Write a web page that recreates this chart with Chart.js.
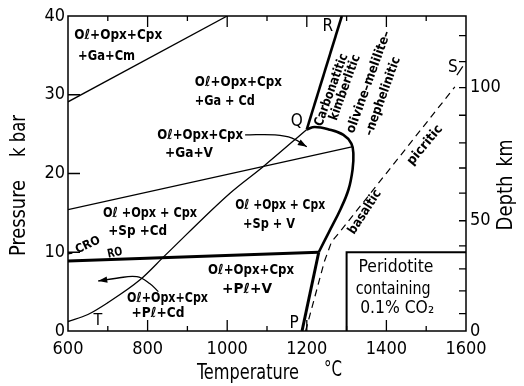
<!DOCTYPE html>
<html>
<head>
<meta charset="utf-8">
<script src="https://cdn.jsdelivr.net/npm/chart.js@4.4.1/dist/chart.umd.min.js"></script>
<style>
  html, body { margin: 0; padding: 0; background: #fff; }
</style>
</head>
<body>
<canvas id="chart" width="524" height="386"></canvas>
<script>
// phase boundaries as [temperature (C), pressure (kbar)]
var cmBoundary = [[600, 29.1], [1000, 40]];
var gaSpBoundary = [[600, 15.4], [1316, 23.4]];
var curveT = [[600, 1.2], [650, 2.1], [700, 3.6], [781, 6.5], [844, 9.6], [1007, 17.5], [1091, 20.9], [1200, 25.6]];
var roBoundary = [[600, 8.9], [1230, 10.0]];
var solidusLow = [[1188, 0], [1230, 10.0]];
var solidusHigh = [[1230, 10.0], [1255, 12.5], [1285, 15.5], [1305, 18.0], [1315, 20.5], [1317, 22.5], [1312, 23.8], [1292, 24.9], [1255, 25.6], [1220, 25.9], [1200, 25.6]];
var lineQR = [[1200, 25.6], [1288, 40]];
var lineCRO = [[600, 9.8], [611, 9.9]];
var dashedPS = [[1197, 0], [1244, 8.8], [1262, 11.3], [1288, 12.9], [1572, 31]];
var markS = [[1577, 32.5], [1592, 33.6]];
var arrowGaV = [[1045, 24.9], [1120, 24.9], [1163, 24.5], [1200, 23.4]];
var arrowPlCd = [[827, 5.0], [806, 6.0], [773, 6.9], [722, 6.7], [676, 6.35]];
var boxCO2 = [[1300, 0], [1300, 10.0], [1600, 10.0]];

// depth scale on the right: km and the pressure where each tick sits
var depthKm = [0, 10, 20, 30, 40, 50, 60, 70, 80, 90, 100, 110, 120];
var depthAtKbar = [0, 2.2, 5.1, 7.9, 10.8, 14.0, 17.5, 20.7, 23.9, 27.4, 30.9, 34.2, 37.5];
var depthLabels = ['0', '50', '100'];

var tempTicks = [600, 800, 1000, 1200, 1400, 1600];
var pressTicks = [0, 10, 20, 30, 40];

var FONT = "'DejaVu Sans Condensed', 'Liberation Sans Narrow', 'DejaVu Sans', sans-serif";

// text on the diagram, placed in data units (T, P); w = target width in px
var notes = [
  { s: 'O\u2113+Opx+Cpx', x: 726, y: 37.6, w: 88 },
  { s: '+Ga+Cm', x: 697, y: 34.9, w: 57 },
  { s: 'O\u2113+Opx+Cpx', x: 1028, y: 31.6, w: 87 },
  { s: '+Ga + Cd', x: 994, y: 29.2, w: 60 },
  { s: 'O\u2113+Opx+Cpx', x: 932, y: 24.9, w: 86 },
  { s: '+Ga+V', x: 904, y: 22.6, w: 48 },
  { s: 'O\u2113 +Opx + Cpx', x: 806, y: 14.9, w: 94 },
  { s: '+Sp +Cd', x: 775, y: 12.7, w: 59 },
  { s: 'O\u2113 +Opx + Cpx', x: 1133, y: 16.0, w: 90 },
  { s: '+Sp + V', x: 1105, y: 13.6, w: 52 },
  { s: 'O\u2113+Opx+Cpx', x: 1060, y: 7.7, w: 86 },
  { s: '+P\u2113+V', x: 1050, y: 5.3, w: 50 },
  { s: 'O\u2113+Opx+Cpx', x: 850, y: 4.1, w: 81 },
  { s: '+P\u2113+Cd', x: 826, y: 2.2, w: 53 },
  { s: 'CRO', x: 650, y: 10.9, w: 26, rot: -25, size: 12 },
  { s: 'RO', x: 718, y: 9.9, w: 15, rot: -12, size: 12 },
  { s: 'Carbonatitic', x: 1262, y: 30.6, w: 76, rot: -70, size: 13 },
  { s: 'kimberlitic', x: 1296, y: 30.9, w: 69, rot: -70, size: 13 },
  { s: 'olivine\u2013melilite\u2013', x: 1356, y: 31.6, w: 108, rot: -70, size: 13 },
  { s: '\u2013nephelinitic', x: 1391, y: 29.8, w: 83, rot: -70, size: 13 },
  { s: 'picritic', x: 1497, y: 23.6, w: 48, rot: -50, size: 13 },
  { s: 'basaltic', x: 1346, y: 15.1, w: 50, rot: -57, size: 13 },
  { s: 'T', x: 675, y: 1.3, size: 16, bold: false },
  { s: 'P', x: 1168, y: 0.9, size: 17, bold: false },
  { s: 'Q', x: 1175, y: 26.6, size: 17, bold: false },
  { s: 'R', x: 1253, y: 38.6, size: 17, bold: false },
  { s: 'S', x: 1567, y: 33.4, size: 17, bold: false },
  { s: 'Peridotite', x: 1424, y: 8.0, w: 75, size: 17, bold: false },
  { s: 'containing', x: 1417, y: 5.3, w: 75, size: 17, bold: false },
  { s: '0.1% CO\u2082', x: 1427, y: 2.8, w: 74, size: 17, bold: false }
];

function xy(arr) {
  return arr.map(function (p) { return { x: p[0], y: p[1] }; });
}

function line(arr, width, extra) {
  var ds = {
    data: xy(arr),
    showLine: true,
    borderColor: '#000',
    backgroundColor: '#000',
    borderWidth: width,
    pointRadius: 0,
    fill: false,
    tension: 0
  };
  for (var k in extra) ds[k] = extra[k];
  return ds;
}

function drawText(ctx, s, px, py, o) {
  var size = o.size || 14;
  var weight = o.bold === false ? 'normal' : 'bold';
  ctx.save();
  ctx.font = weight + ' ' + size + 'px ' + FONT;
  ctx.fillStyle = '#000';
  ctx.textAlign = 'center';
  ctx.textBaseline = 'middle';
  ctx.translate(px, py);
  if (o.rot) ctx.rotate(o.rot * Math.PI / 180);
  if (o.w) {
    var mw = ctx.measureText(s).width;
    ctx.scale(o.w / mw, 1);
  }
  ctx.fillText(s, 0, 0);
  ctx.restore();
}

var decor = {
  id: 'decor',
  afterDraw: function (chart) {
    var ctx = chart.ctx;
    var xs = chart.scales.x, ys = chart.scales.y;
    var a = chart.chartArea;
    ctx.save();
    ctx.strokeStyle = '#000';
    ctx.lineWidth = 1.5;
    ctx.strokeRect(a.left, a.top, a.right - a.left, a.bottom - a.top);

    // inward tick marks
    ctx.lineWidth = 1.3;
    ctx.beginPath();
    for (var t = 700; t < 1600; t += 100) {
      var px = xs.getPixelForValue(t);
      var len = (t - 600) % 200 === 0 ? 11 : 5;
      ctx.moveTo(px, a.bottom); ctx.lineTo(px, a.bottom - len);
      ctx.moveTo(px, a.top); ctx.lineTo(px, a.top + len);
    }
    pressTicks.forEach(function (p) {
      if (p === 0 || p === 40) return;
      var py = ys.getPixelForValue(p);
      ctx.moveTo(a.left, py); ctx.lineTo(a.left + 12, py);
    });
    depthAtKbar.forEach(function (p) {
      if (p === 0) return;
      var py = ys.getPixelForValue(p);
      ctx.moveTo(a.right, py); ctx.lineTo(a.right - 7, py);
    });
    ctx.stroke();

    // arrowheads at the end of the two arrow curves
    [arrowIdx1, arrowIdx2].forEach(function (i) {
      var pts = chart.getDatasetMeta(i).data;
      var e = pts[pts.length - 1];
      var bx = e.cp1x !== undefined ? e.cp1x : pts[pts.length - 2].x;
      var by = e.cp1y !== undefined ? e.cp1y : pts[pts.length - 2].y;
      var ang = Math.atan2(e.y - by, e.x - bx);
      ctx.save();
      ctx.translate(e.x, e.y);
      ctx.rotate(ang);
      ctx.beginPath();
      ctx.moveTo(0, 0);
      ctx.lineTo(-9, -3.2);
      ctx.lineTo(-9, 3.2);
      ctx.closePath();
      ctx.fillStyle = '#000';
      ctx.fill();
      ctx.restore();
    });

    notes.forEach(function (n) {
      drawText(ctx, n.s, xs.getPixelForValue(n.x), ys.getPixelForValue(n.y), n);
    });

    // axis titles
    drawText(ctx, 'Temperature', 248, 374, { size: 21, w: 102, bold: false });
    drawText(ctx, '\u00b0C', 333, 371, { size: 21, w: 18, bold: false });
    drawText(ctx, 'Pressure', 20, 218, { size: 21, w: 76, rot: -90, bold: false });
    drawText(ctx, 'k bar', 20, 136, { size: 21, w: 42, rot: -90, bold: false });
    drawText(ctx, 'Depth', 507, 203, { size: 21, w: 55, rot: -90, bold: false });
    drawText(ctx, 'km', 507, 153, { size: 21, w: 27, rot: -90, bold: false });
    ctx.restore();
  }
};

var datasets = [
  line(cmBoundary, 1.3),
  line(gaSpBoundary, 1.3),
  line(curveT, 1.3, { cubicInterpolationMode: 'monotone' }),
  line(lineCRO, 1.2),
  line(dashedPS, 1.2, { borderDash: [7, 5] }),
  line(markS, 1.2),
  line(boxCO2, 2),
  line(roBoundary, 3),
  line(solidusLow, 3),
  line(solidusHigh, 2.6, { tension: 0.4 }),
  line(lineQR, 2.6),
  line(arrowGaV, 1.3, { tension: 0.4 }),
  line(arrowPlCd, 1.3, { tension: 0.4 })
];
var arrowIdx1 = datasets.length - 2;
var arrowIdx2 = datasets.length - 1;

var tickFont = { family: FONT, size: 18 };
var plain = function (v) { return String(v); };

new Chart('chart', {
  type: 'scatter',
  data: { datasets: datasets },
  options: {
    responsive: false,
    animation: false,
    devicePixelRatio: 1,
    layout: { padding: { top: 16, left: 0, right: 0, bottom: 0 } },
    plugins: { legend: { display: false }, tooltip: { enabled: false } },
    scales: {
      x: {
        type: 'linear', position: 'bottom', min: 600, max: 1600,
        afterBuildTicks: function (s) { s.ticks = tempTicks.map(function (v) { return { value: v }; }); },
        afterFit: function (s) { s.height = 55; },
        grid: { display: false, drawTicks: false },
        border: { display: false },
        ticks: { font: tickFont, color: '#000', padding: 8, maxRotation: 0, autoSkip: false, callback: plain }
      },
      y: {
        type: 'linear', position: 'left', min: 0, max: 40,
        afterBuildTicks: function (s) { s.ticks = pressTicks.map(function (v) { return { value: v }; }); },
        afterFit: function (s) { s.width = 68; },
        grid: { display: false, drawTicks: false },
        border: { display: false },
        ticks: { font: tickFont, color: '#000', padding: 3, autoSkip: false, callback: plain }
      },
      depth: {
        type: 'linear', position: 'right', min: 0, max: 40,
        afterBuildTicks: function (s) { s.ticks = depthAtKbar.map(function (v) { return { value: v }; }); },
        afterFit: function (s) { s.width = 58; },
        grid: { display: false, drawTicks: false },
        border: { display: false },
        ticks: {
          font: tickFont, color: '#000', padding: 4, autoSkip: false,
          callback: function (v, i) {
            var d = String(depthKm[i]);
            return depthLabels.indexOf(d) >= 0 ? d : '';
          }
        }
      }
    }
  },
  plugins: [decor]
});
</script>
</body>
</html>
